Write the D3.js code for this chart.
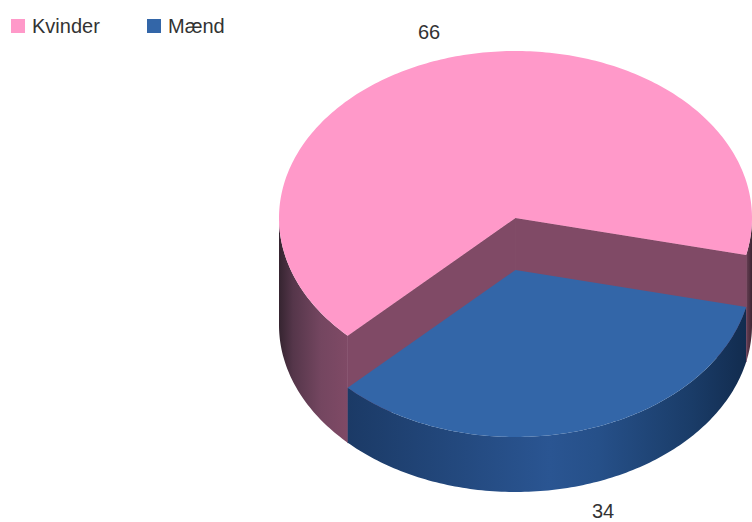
<!DOCTYPE html>
<html><head><meta charset="utf-8">
<script src="https://cdnjs.cloudflare.com/ajax/libs/d3/7.8.5/d3.min.js"></script>
<style>html,body{margin:0;padding:0;background:#fff}svg{display:block}text{font-family:"Liberation Sans",Arial,sans-serif;font-size:20px;fill:#333}</style>
</head><body><svg id="c" width="752" height="522"></svg>
<script>
const categories = ["Kvinder", "Mænd"];
const seriesValues = [66, 34];
const sliceColors = ["#ff99c9", "#3366a8"];

const svg = d3.select("#c");
const cx = 515.5, rx = 236.5, ry = 167;
const baseY = 325;
const heights = [107, 55];           // extrusion of each slice
const startAngle = 225.2 * Math.PI / 180;

const pie = d3.pie().sort(null).startAngle(startAngle).endAngle(startAngle + 2 * Math.PI);
const arcs = pie(seriesValues);
const px = a => cx + rx * Math.sin(a);
const py = (a, y0) => y0 - ry * Math.cos(a);

function arcPts(a0, a1, y0) {
  const n = Math.max(2, Math.ceil(Math.abs(a1 - a0) * 60));
  return d3.range(n + 1).map(i => { const a = a0 + (a1 - a0) * i / n; return [px(a), py(a, y0)]; });
}
const line = d3.line();

const defs = svg.append("defs");
function grad(id, stops, x1, x2) {
  const g = defs.append("linearGradient").attr("id", id).attr("gradientUnits", "userSpaceOnUse")
    .attr("x1", x1).attr("x2", x2).attr("y1", 0).attr("y2", 0);
  stops.forEach(s => g.append("stop").attr("offset", s[0]).attr("stop-color", s[1]));
}
grad("wallPink", [[0, "#352430"], [0.2, "#55364a"], [0.6, "#744660"], [1, "#804a66"]], 279, 349);
grad("wallPinkR", [[0, "#6a3f56"], [1, "#3c2632"]], 746, 752);
grad("wallBlue", [[0, "#1b3a66"], [0.5, "#2a5592"], [0.62, "#265089"], [0.85, "#1a3c68"], [1, "#112a4c"]], 347, 752);

function wall(a0, a1, top, bottom, fill) {
  const pts = arcPts(a0, a1, top).concat(arcPts(a1, a0, bottom));
  svg.append("path").attr("d", line(pts) + "Z").attr("fill", fill);
}

const [pink, blue] = arcs;
const pinkTop = baseY - heights[0], blueTop = baseY - heights[1];
const turn = 2 * Math.PI;

// pink outer walls, left and right of the back
wall(pink.startAngle, 1.5 * Math.PI, pinkTop, baseY, "url(#wallPink)");
wall(Math.PI / 2, pink.endAngle - turn, pinkTop, baseY, "url(#wallPinkR)");

// pink inner cut faces
const inner = a => [[cx, pinkTop], [px(a), py(a, pinkTop)], [px(a), py(a, baseY)], [cx, baseY]];
[pink.startAngle, pink.endAngle].forEach(a =>
  svg.append("path").attr("d", line(inner(a)) + "Z").attr("fill", "#804a66")
    .attr("stroke", "#804a66").attr("stroke-width", 0.8));

// blue outer wall and top
wall(blue.startAngle - turn, blue.endAngle - turn, blueTop, baseY, "url(#wallBlue)");
const sector = (s, y0) => line([[cx, y0]].concat(arcPts(s.startAngle, s.endAngle, y0))) + "Z";
svg.append("path").attr("d", sector(blue, blueTop)).attr("fill", sliceColors[1]);
svg.append("path").attr("d", sector(pink, pinkTop)).attr("fill", sliceColors[0]);

// value labels
svg.append("text").attr("x", 429).attr("y", 39).attr("text-anchor", "middle").text(seriesValues[0]);
svg.append("text").attr("x", 603).attr("y", 517.5).attr("text-anchor", "middle").text(seriesValues[1]);

// legend
const legendX = d3.scaleOrdinal().domain(categories).range([11, 147]);
const lg = svg.selectAll("g.lg").data(categories).join("g").attr("class", "lg")
  .attr("transform", d => `translate(${legendX(d)},19)`);
lg.append("rect").attr("width", 14).attr("height", 14).attr("fill", (d, i) => sliceColors[i]);
lg.append("text").attr("x", 21).attr("y", 14).text(d => d);
</script></body></html>
